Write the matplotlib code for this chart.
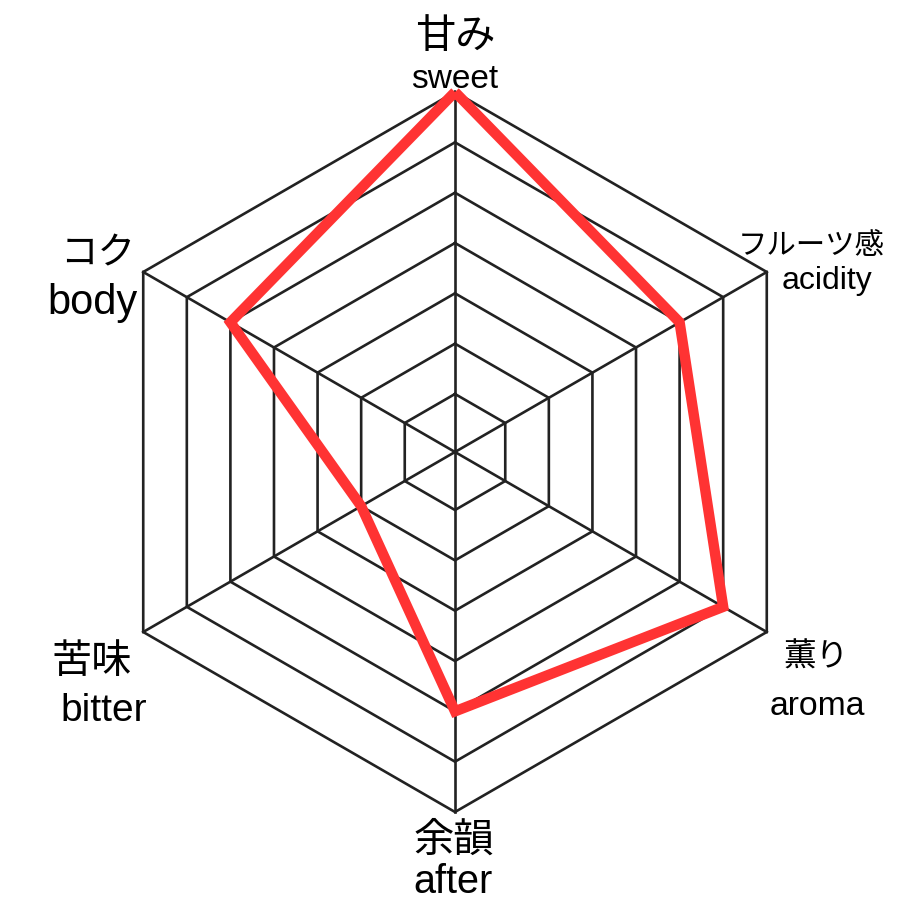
import numpy as np
import matplotlib.pyplot as plt

# chart data
labels_ja = ['甘み', 'フルーツ感', '薫り', '余韻', '苦味', 'コク']
labels_en = ['sweet', 'acidity', 'aroma', 'after', 'bitter', 'body']
values = [7, 5, 6, 5, 2, 5]
levels = [1, 2, 3, 4, 5, 6, 7]

# geometry (pixels)
W = 920
cx, cy = 455, 453
R = 360
rmin = -0.153          # radial scale starts a little below 0
u = R / (max(levels) - rmin)

def px(x, y):
    return (x - cx) / u, (cy - y) / u

def rad(v):
    return np.asarray(v, dtype=float) - rmin

n = len(values)
ang = np.pi / 2 - np.arange(n) * 2 * np.pi / n

fig = plt.figure(figsize=(9.2, 9.2), dpi=100)
ax = fig.add_axes([0, 0, 1, 1])
x0, y0 = px(0, 0)
x1, y1 = px(W, W)
ax.set_xlim(x0, x1)
ax.set_ylim(y1, y0)
ax.set_aspect('equal')
ax.axis('off')

# grid rings
a2 = np.append(ang, ang[0])
for lv in levels:
    r = rad(lv)
    ax.plot(r * np.cos(a2), r * np.sin(a2), color='#222222', lw=1.9,
            solid_joinstyle='miter', zorder=1)

# spokes
for a in ang:
    ax.plot([0, rad(levels[-1]) * np.cos(a)], [0, rad(levels[-1]) * np.sin(a)],
            color='#222222', lw=1.9, zorder=1)

# data line
v = rad(values + [values[0]])
ax.plot(v * np.cos(a2), v * np.sin(a2), color='#ff3333', lw=7.5,
        solid_joinstyle='miter', solid_capstyle='butt', zorder=3)

# labels: (ja pos, ja size, en pos, en size)
lab_pos = [
    ((455, 36), 29, (455, 79), 24),
    ((811, 245), 21.2, (827, 281), 23),
    ((816, 658), 23.5, (817, 707), 24.3),
    ((454, 840), 29, (453, 882), 28.5),
    ((92, 662), 29, (104, 711), 28),
    ((98, 254), 27, (92, 303), 30),
]
for ja, en, (pj, sj, pe, se) in zip(labels_ja, labels_en, lab_pos):
    ax.text(*px(*pj), ja, fontsize=sj, ha='center', va='center',
            family=['Noto Sans CJK JP', 'DejaVu Sans'])
    ax.text(*px(*pe), en, fontsize=se, ha='center', va='center',
            family=['Liberation Sans', 'DejaVu Sans'])

fig.savefig('out.png', dpi=100, facecolor='white')
